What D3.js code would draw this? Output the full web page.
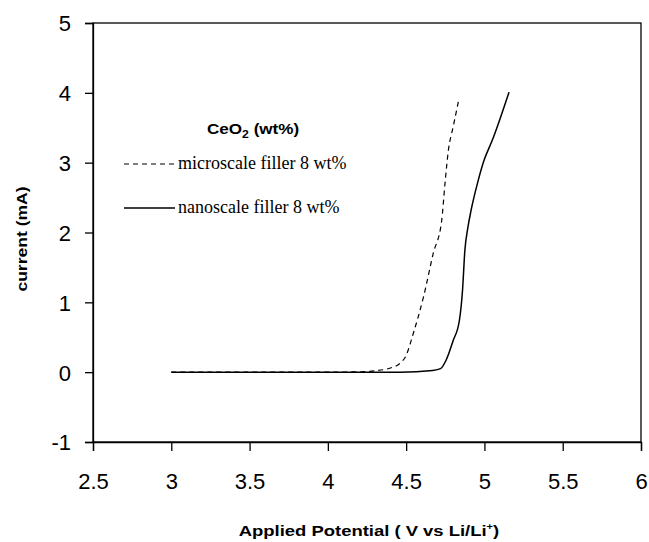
<!DOCTYPE html>
<html lang="en">
<head>
  <meta charset="UTF-8">
  <title>CeO2 LSV</title>
  <script src="https://d3js.org/d3.v7.min.js"></script>
  <style>
    body { margin: 0; background: #fff; }
    .tick text { font-family: "Liberation Sans", Arial, sans-serif; font-size: 22px; fill: #000; }
  </style>
</head>
<body>
  <svg id="chart" width="649" height="542"></svg>
  <script>
    // microscale filler 8 wt% (dashed)
    const microV = [3.0, 3.5, 4.0, 4.2, 4.3, 4.4, 4.46, 4.5, 4.545, 4.61, 4.673, 4.727, 4.748, 4.77, 4.80, 4.838];
    const microI = [0, 0, 0, 0.005, 0.02, 0.06, 0.125, 0.24, 0.55, 1.07, 1.70, 2.17, 2.70, 3.18, 3.51, 3.92];
    // nanoscale filler 8 wt% (solid)
    const nanoV = [3.0, 3.5, 4.0, 4.46, 4.67, 4.72, 4.755, 4.80, 4.84, 4.86, 4.875, 4.895, 4.915, 4.955, 4.997, 5.05, 5.157];
    const nanoI = [0, 0, 0, 0, 0.025, 0.05, 0.17, 0.45, 0.74, 1.17, 1.74, 2.08, 2.32, 2.70, 3.03, 3.32, 4.01];

    const xTicks = [2.5, 3, 3.5, 4, 4.5, 5, 5.5, 6];
    const yTicks = [-1, 0, 1, 2, 3, 4, 5];

    const svg = d3.select('#chart');
    const mLeft = 93, mRight = 641, mTop = 23, mBottom = 442;

    const x = d3.scaleLinear().domain([2.5, 6]).range([mLeft, mRight]);
    const y = d3.scaleLinear().domain([-1, 5]).range([mBottom, mTop]);

    // frame
    svg.append('rect')
      .attr('x', mLeft).attr('y', mTop)
      .attr('width', mRight - mLeft).attr('height', mBottom - mTop)
      .attr('fill', 'none').attr('stroke', '#000').attr('stroke-width', 1.3);

    const xAxis = svg.append('g')
      .attr('transform', `translate(0,${mBottom})`)
      .call(d3.axisBottom(x).tickValues(xTicks).tickSize(9).tickPadding(22).tickFormat(d => String(d)));
    const yAxis = svg.append('g')
      .attr('transform', `translate(${mLeft},0)`)
      .call(d3.axisLeft(y).tickValues(yTicks).tickSize(8).tickPadding(14).tickFormat(d => String(d)));
    [xAxis, yAxis].forEach(a => {
      a.select('.domain').attr('stroke-width', 1.3);
      a.selectAll('.tick line').attr('stroke-width', 1.3);
    });
    yAxis.selectAll('.tick text').attr('dy', '0.36em');

    // axis titles (the original is a bit stretched horizontally)
    svg.append('text')
      .attr('transform', `translate(${(mLeft + mRight) / 2 + 2},536) scale(1.23,1)`)
      .attr('text-anchor', 'middle')
      .style('font-family', '"Liberation Sans", Arial, sans-serif')
      .style('font-weight', 'bold').style('font-size', '15px')
      .html('Applied Potential ( V vs Li/Li<tspan dy="-6" font-size="9px">+</tspan><tspan dy="6">)</tspan>');

    svg.append('text')
      .attr('transform', `translate(27,239) rotate(-90) scale(1.17,1)`)
      .attr('text-anchor', 'middle')
      .style('font-family', '"Liberation Sans", Arial, sans-serif')
      .style('font-weight', 'bold').style('font-size', '15px')
      .text('current (mA)');

    const line = d3.line().x(d => x(d[0])).y(d => y(d[1])).curve(d3.curveMonotoneX);

    svg.append('path')
      .datum(microV.map((v, i) => [v, microI[i]]))
      .attr('d', line)
      .attr('fill', 'none').attr('stroke', '#000').attr('stroke-width', 1.2)
      .attr('stroke-dasharray', '5,4');

    svg.append('path')
      .datum(nanoV.map((v, i) => [v, nanoI[i]]))
      .attr('d', line)
      .attr('fill', 'none').attr('stroke', '#000').attr('stroke-width', 1.5);

    // legend
    const lg = svg.append('g');
    lg.append('text')
      .attr('transform', 'translate(207,134) scale(1.22,1)')
      .style('font-family', '"Liberation Sans", Arial, sans-serif')
      .style('font-weight', 'bold').style('font-size', '14px')
      .html('CeO<tspan dy="4" font-size="10px">2</tspan><tspan dy="-4"> (wt%)</tspan>');

    const items = [
      { label: 'microscale filler 8 wt%', dash: '5,4', w: 1.2, y: 164 },
      { label: 'nanoscale filler 8 wt%', dash: null, w: 1.3, y: 208 }
    ];
    items.forEach(it => {
      lg.append('line')
        .attr('x1', 124).attr('x2', 175).attr('y1', it.y).attr('y2', it.y)
        .attr('stroke', '#000').attr('stroke-width', it.w)
        .attr('stroke-dasharray', it.dash);
      lg.append('text')
        .attr('x', 178).attr('y', it.y + 5)
        .style('font-family', '"Liberation Serif", "Times New Roman", serif')
        .style('font-size', '18px')
        .text(it.label);
    });
  </script>
</body>
</html>
